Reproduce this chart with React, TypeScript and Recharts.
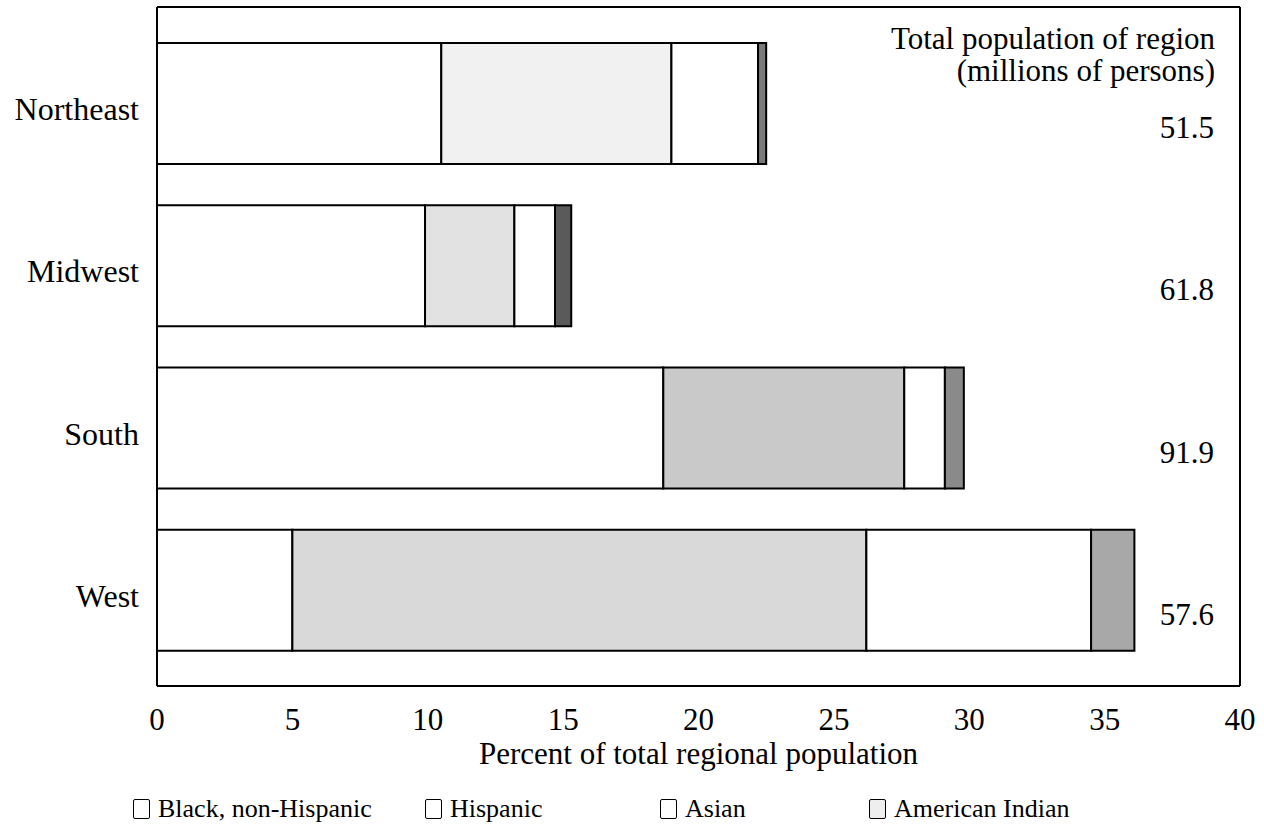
import React from "react";
import { BarChart, Bar, Cell, XAxis, YAxis } from "recharts";

// regional population shares (percent of total regional population)
const regions = ["Northeast", "Midwest", "South", "West"];
const blackNonHispanic = [10.5, 9.9, 18.7, 5.0];
const hispanic = [8.5, 3.3, 8.9, 21.2];
const asian = [3.2, 1.5, 1.5, 8.3];
const americanIndian = [0.3, 0.6, 0.7, 1.6];
const totalPop = ["51.5", "61.8", "91.9", "57.6"];
const xTicks = [0, 5, 10, 15, 20, 25, 30, 35, 40];

// stipple shades differ a bit per region in the printed figure
const hispanicShades = ["#f1f1f1", "#e2e2e2", "#c9c9c9", "#d9d9d9"];
const indianShades = ["#7a7a7a", "#5a5a5a", "#8a8a8a", "#a8a8a8"];

const data = regions.map((r, i) => ({
  region: r,
  black: blackNonHispanic[i],
  hispanic: hispanic[i],
  asian: asian[i],
  indian: americanIndian[i],
}));

const FONT = "'Liberation Serif', 'DejaVu Serif', serif";

const RegionTick = ({ x, y, payload }: any) => (
  <text x={x} y={y} dy={17} textAnchor="end" fontSize={32} fontFamily={FONT} fill="#000">
    {payload.value}
  </text>
);

const PopTick = ({ x, y, index }: any) => (
  <text x={x} y={y} dy={35} textAnchor="end" fontSize={31} fontFamily={FONT} fill="#000">
    {totalPop[index]}
  </text>
);

const XTick = ({ x, y, payload }: any) => (
  <text x={x} y={y} dy={44} textAnchor="middle" fontSize={31} fontFamily={FONT} fill="#000">
    {payload.value}
  </text>
);

const PopTitle = ({ viewBox }: any) => {
  const right = viewBox.x + viewBox.width - 25;
  return (
    <text textAnchor="end" fontSize={31} fontFamily={FONT} fill="#000">
      <tspan x={right} y={49}>Total population of region</tspan>
      <tspan x={right} y={81}>(millions of persons)</tspan>
    </text>
  );
};

const legendItems = [
  { name: "Black, non-Hispanic", left: 133, fill: "#fff" },
  { name: "Hispanic", left: 425, fill: "#fff" },
  { name: "Asian", left: 660, fill: "#fff" },
  { name: "American Indian", left: 869, fill: "#eee" },
];

export default function App() {
  const barStroke = { stroke: "#000", strokeWidth: 2 };
  return (
    <div style={{ position: "absolute", left: 0, top: 0, width: 1264, height: 831, background: "#fff" }}>
      <BarChart
        width={1264}
        height={831}
        data={data}
        layout="vertical"
        margin={{ top: 6, right: 24, left: 0, bottom: 60 }}
        barSize={121}
      >
        <XAxis
          type="number"
          domain={[0, 40]}
          ticks={xTicks}
          tick={<XTick />}
          tickLine={false}
          tickSize={0}
          tickMargin={0}
          axisLine={{ stroke: "#000", strokeWidth: 2 }}
          height={85}
          label={{
            value: "Percent of total regional population",
            position: "insideBottom",
            offset: 7,
            fontSize: 31,
            fontFamily: FONT,
            fill: "#000",
          }}
        />
        <XAxis
          xAxisId="top"
          orientation="top"
          type="number"
          domain={[0, 40]}
          allowDataOverflow
          ticks={xTicks}
          tick={false}
          tickLine={false}
          height={1}
          axisLine={{ stroke: "#000", strokeWidth: 2 }}
          label={{ content: <PopTitle /> }}
        />
        <YAxis
          type="category"
          dataKey="region"
          width={157}
          tick={<RegionTick />}
          tickLine={false}
          tickSize={0}
          tickMargin={18}
          padding={{ top: 15, bottom: 15 }}
          axisLine={{ stroke: "#000", strokeWidth: 2 }}
        />
        <YAxis
          yAxisId="pop"
          orientation="right"
          mirror
          type="category"
          dataKey="region"
          tick={<PopTick />}
          tickLine={false}
          tickSize={0}
          tickMargin={26}
          padding={{ top: 15, bottom: 15 }}
          axisLine={{ stroke: "#000", strokeWidth: 2 }}
        />
        <Bar dataKey="black" stackId="a" fill="#fff" {...barStroke} isAnimationActive={false} />
        <Bar dataKey="hispanic" stackId="a" {...barStroke} isAnimationActive={false}>
          {data.map((_, i) => (
            <Cell key={i} fill={hispanicShades[i]} />
          ))}
        </Bar>
        <Bar dataKey="asian" stackId="a" fill="#fff" {...barStroke} isAnimationActive={false} />
        <Bar dataKey="indian" stackId="a" {...barStroke} isAnimationActive={false}>
          {data.map((_, i) => (
            <Cell key={i} fill={indianShades[i]} />
          ))}
        </Bar>
      </BarChart>
      {legendItems.map((l) => (
        <div
          key={l.name}
          style={{
            position: "absolute",
            left: l.left,
            top: 794,
            display: "flex",
            alignItems: "center",
            gap: 8,
            fontFamily: FONT,
            fontSize: 26,
            color: "#000",
            whiteSpace: "nowrap",
          }}
        >
          <span
            style={{
              width: 15,
              height: 18,
              border: "1.5px solid #000",
              borderRadius: 2,
              background: l.fill,
              display: "inline-block",
            }}
          />
          {l.name}
        </div>
      ))}
    </div>
  );
}
